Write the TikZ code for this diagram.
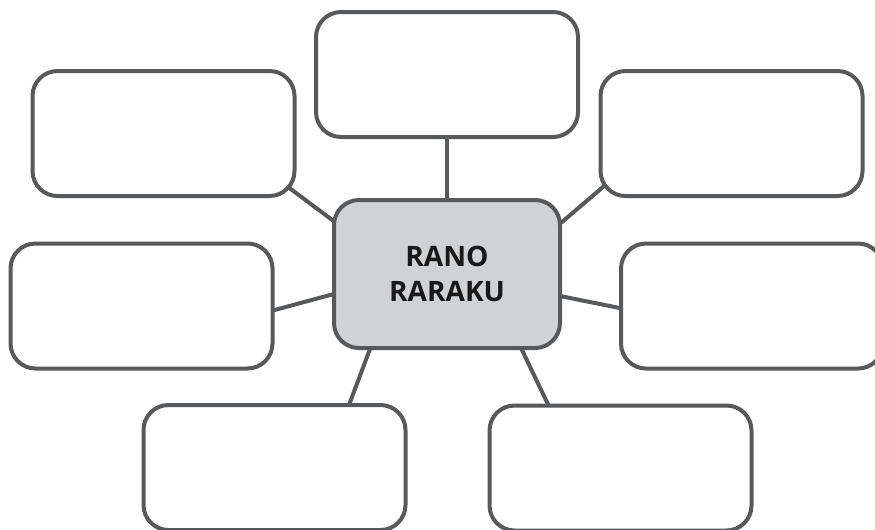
\documentclass[tikz,border=0pt]{standalone}
\usepackage{fontspec}
\setmainfont{Open Sans}
\usetikzlibrary{backgrounds}
\definecolor{rim}{RGB}{88,89,91}
\definecolor{hubgray}{RGB}{209,210,212}
\tikzset{
	blank/.style={draw=rim, line width=0.08cm, fill=white, rounded corners=0.5cm,
		minimum width=5.24cm, minimum height=2.5cm, inner sep=0pt, outer sep=0pt},
	hubbox/.style={blank, fill=hubgray, minimum width=4.52cm, minimum height=2.96cm,
		font=\bfseries\fontsize{16}{20}\selectfont, text=black!90, align=center},
	spoke/.style={draw=rim, line width=0.08cm, shorten <=-6pt, shorten >=-6pt}
}

\begin{document}
\begin{tikzpicture}
			%%%%% START %%%%%
			
			\useasboundingbox (0, 0) rectangle (17.5, -10.58);
			
			\node[hubbox] (hub) at (8.94, -5.48) {RANO\\RARAKU};
			
			\node[blank] (tc) at (8.94, -1.49) {};
			\node[blank] (tl) at (3.27, -2.67) {};
			\node[blank] (tr) at (14.63, -2.67) {};
			\node[blank] (ml) at (2.83, -6.12) {};
			\node[blank] (mr) at (15.04, -6.12) {};
			\node[blank] (bl) at (5.49, -9.35) {};
			\node[blank] (br) at (12.41, -9.36) {};
			
			\begin{scope}[on background layer]
				\draw[spoke] (hub.north) -- (tc.south);
				\draw[spoke] (hub.155.3) -- (tl.336.5);
				\draw[spoke] (hub.24.3) -- (tr.203.5);
				\draw[spoke] (hub.190.5) -- (ml.358.7);
				\draw[spoke] (hub.349.5) -- (mr.181.3);
				\draw[spoke] (hub.224.6) -- (bl.40.5);
				\draw[spoke] (hub.315.8) -- (br.139.2);
			\end{scope}
			
			%%%%% END %%%%%
\end{tikzpicture}
\end{document}
